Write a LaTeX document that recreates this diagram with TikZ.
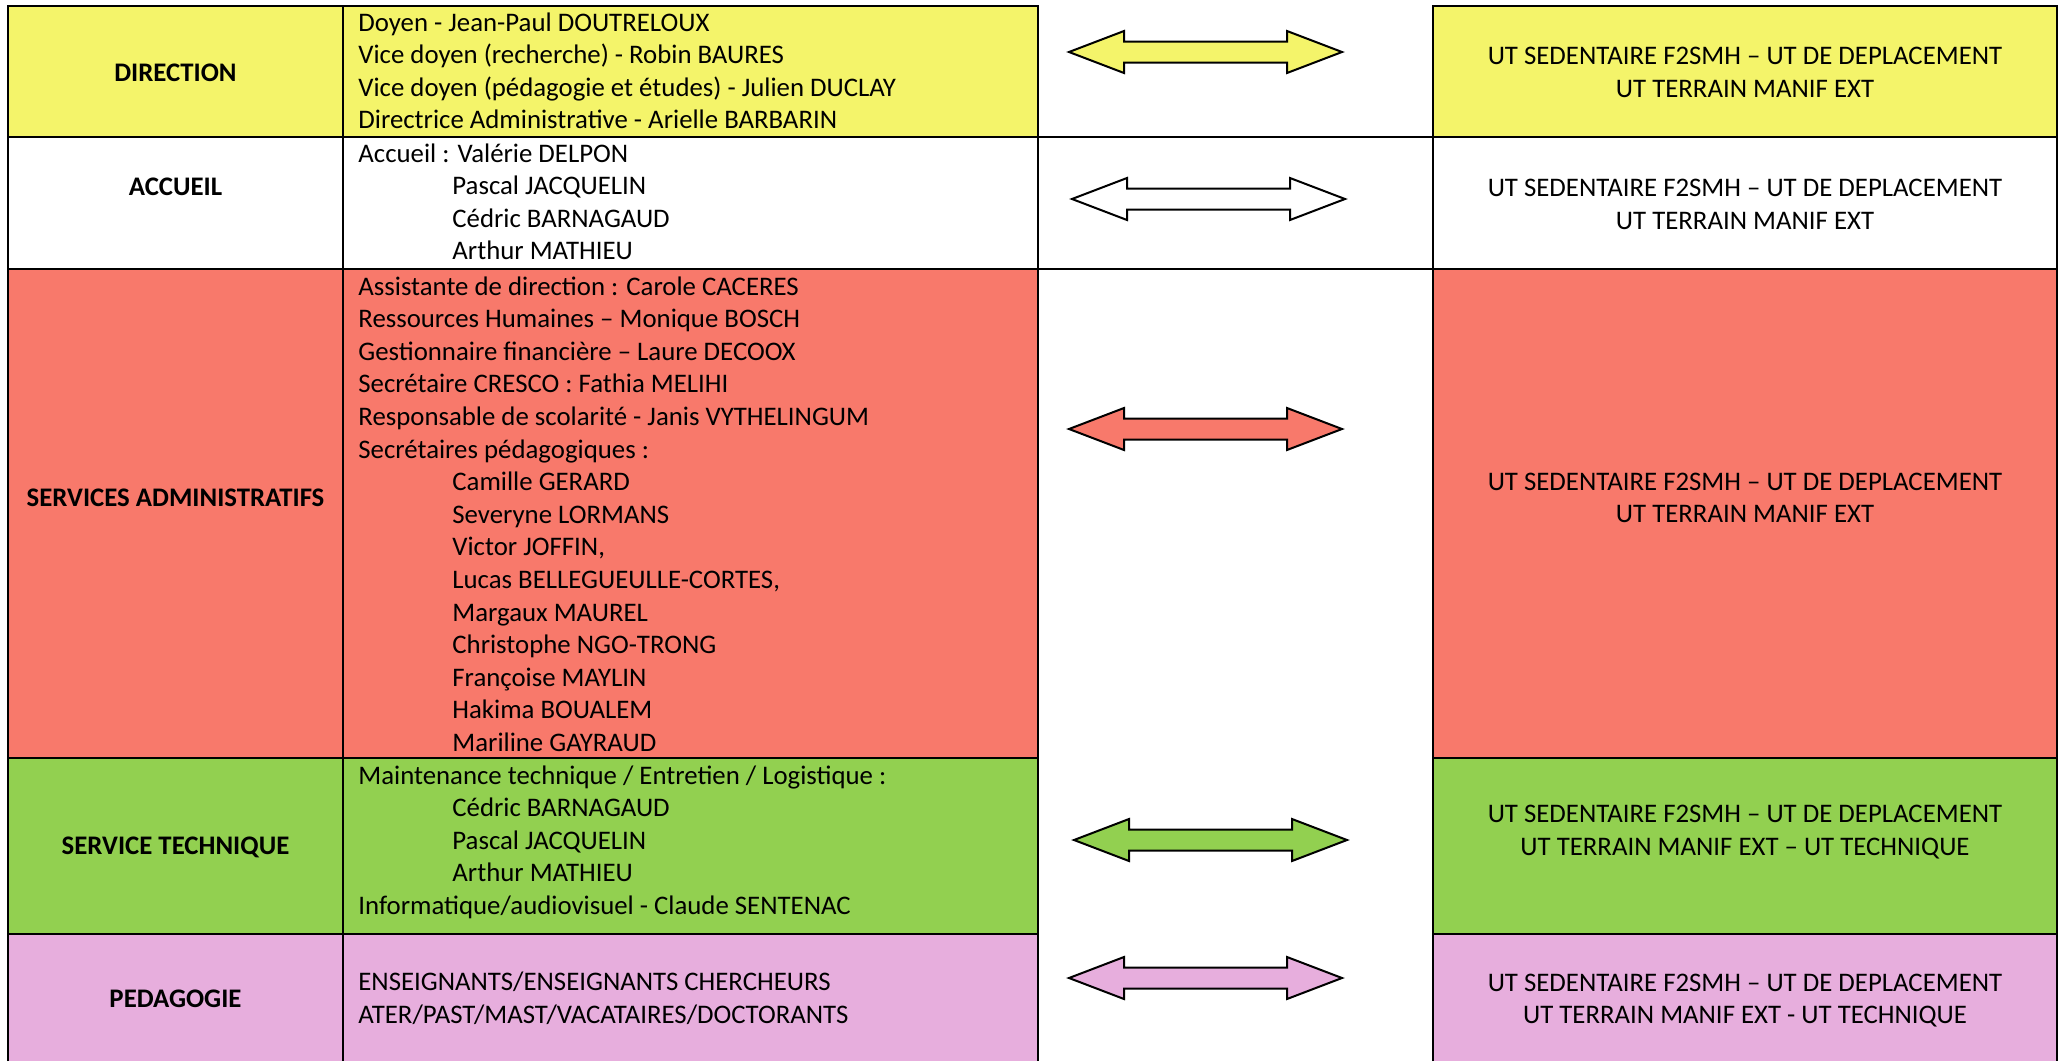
\documentclass[tikz,border=0pt]{standalone}
\usepackage{fontspec}
\setmainfont{Carlito}
\usepackage{tikz}

\definecolor{dirYellow}{HTML}{F4F46A}
\definecolor{admRed}{HTML}{F8796B}
\definecolor{techGreen}{HTML}{92D050}
\definecolor{pedaPink}{HTML}{E7AEDD}

\tikzset{
  grid/.style={line width=1.2pt, black},
  arrline/.style={line width=1pt, black, line join=miter},
  txt/.style={anchor=base west, inner sep=0pt, font=\fontsize{13.4}{15}\selectfont},
  lbl/.style={anchor=base, inner sep=0pt, font=\fontsize{13.4}{15}\selectfont\bfseries},
  ut/.style={anchor=base, inner sep=0pt, font=\fontsize{13.4}{15}\selectfont}
}

% double block arrow, left tip at (#1,#2)
\newcommand{\dblarr}[3]{%
  \draw[arrline, fill=#3] (#1,#2) -- ++(55,-21) -- ++(0,10.5) -- ++(163,0) -- ++(0,-10.5)
    -- ++(55,21) -- ++(-55,21) -- ++(0,-10.5) -- ++(-163,0) -- ++(0,10.5) -- cycle;}

\begin{document}
\begin{tikzpicture}[x=0.5pt, y=-0.5pt]
  \useasboundingbox (0,0) rectangle (2062,1061);
  % cell colours
  \fill[dirYellow] (8,6) rectangle (1038,137);
  \fill[dirYellow] (1433,6) rectangle (2057,137);
  \fill[admRed] (8,269) rectangle (1038,758);
  \fill[admRed] (1433,269) rectangle (2057,758);
  \fill[techGreen] (8,758) rectangle (1038,934);
  \fill[techGreen] (1433,758) rectangle (2057,934);
  \fill[pedaPink] (8,934) rectangle (1038,1061);
  \fill[pedaPink] (1433,934) rectangle (2057,1061);
  % table lines
  \draw[grid] (8,1061) -- (8,6) -- (1038,6) -- (1038,1061);
  \draw[grid] (343,6) -- (343,1061);
  \draw[grid] (1433,1061) -- (1433,6) -- (2057,6) -- (2057,1061);
  \draw[grid] (8,137) -- (2057,137);
  \draw[grid] (8,269) -- (2057,269);
  \draw[grid] (8,758) -- (1038,758);
  \draw[grid] (1433,758) -- (2057,758);
  \draw[grid] (8,934) -- (1038,934);
  \draw[grid] (1433,934) -- (2057,934);

  % left labels
  \node[lbl] (direction) at (175.5,81) {DIRECTION};
  \node[lbl] (accueil) at (175.5,195) {ACCUEIL};
  \node[lbl] (services) at (175.5,506) {SERVICES ADMINISTRATIFS};
  \node[lbl] (technique) at (175.5,854) {SERVICE TECHNIQUE};
  \node[lbl] (pedagogie) at (175.5,1007) {PEDAGOGIE};

  % direction
  \foreach \t [count=\i] in {Doyen - Jean-Paul DOUTRELOUX, Vice doyen (recherche) - Robin BAURES,
      Vice doyen (pédagogie et études) - Julien DUCLAY, Directrice Administrative - Arielle BARBARIN}
    \node[txt] (dir\i) at (358,{31+32.5*(\i-1)}) {\t};
  % accueil
  \node[txt] (acc1) at (358,162) {Accueil : Valérie DELPON};
  \foreach \t [count=\i from 2] in {Pascal JACQUELIN, Cédric BARNAGAUD, Arthur MATHIEU}
    \node[txt] (acc\i) at (452,{162+32.5*(\i-1)}) {\t};
  % services administratifs
  \foreach \t [count=\i] in {Assistante de direction : Carole CACERES, Ressources Humaines – Monique BOSCH,
      Gestionnaire financière – Laure DECOOX, Secrétaire CRESCO : Fathia MELIHI,
      Responsable de scolarité - Janis VYTHELINGUM, Secrétaires pédagogiques :}
    \node[txt] (adm\i) at (358,{295+32.6*(\i-1)}) {\t};
  \foreach \t [count=\i from 7] in {Camille GERARD, Severyne LORMANS, {Victor JOFFIN,},
      {Lucas BELLEGUEULLE-CORTES,}, Margaux MAUREL, Christophe NGO-TRONG,
      Françoise MAYLIN, Hakima BOUALEM, Mariline GAYRAUD}
    \node[txt] (adm\i) at (452,{295+32.6*(\i-1)}) {\t};
  % service technique
  \node[txt] (tec1) at (358,784) {Maintenance technique / Entretien / Logistique :};
  \foreach \t [count=\i from 2] in {Cédric BARNAGAUD, Pascal JACQUELIN, Arthur MATHIEU}
    \node[txt] (tec\i) at (452,{784+32.5*(\i-1)}) {\t};
  \node[txt] (tec5) at (358,914) {Informatique/audiovisuel - Claude SENTENAC};
  % pedagogie
  \node[txt] (ped1) at (358,990) {ENSEIGNANTS/ENSEIGNANTS CHERCHEURS};
  \node[txt] (ped2) at (358,1023) {ATER/PAST/MAST/VACATAIRES/DOCTORANTS};

  % arrows
  \dblarr{1069}{52}{dirYellow}
  \dblarr{1072}{199}{white}
  \dblarr{1069}{429}{admRed}
  \dblarr{1074}{840}{techGreen}
  \dblarr{1069}{978}{pedaPink}

  % right column
  \foreach \ya/\yb/\t [count=\i] in {64/97/{UT TERRAIN MANIF EXT}, 196/229/{UT TERRAIN MANIF EXT},
      490/522/{UT TERRAIN MANIF EXT}, 822/855/{UT TERRAIN MANIF EXT – UT TECHNIQUE},
      991/1023/{UT TERRAIN MANIF EXT - UT TECHNIQUE}}
  {
    \node[ut] (ut\i a) at (1745,\ya) {UT SEDENTAIRE F2SMH – UT DE DEPLACEMENT};
    \node[ut] (ut\i b) at (1745,\yb) {\t};
  }
\end{tikzpicture}
\end{document}
